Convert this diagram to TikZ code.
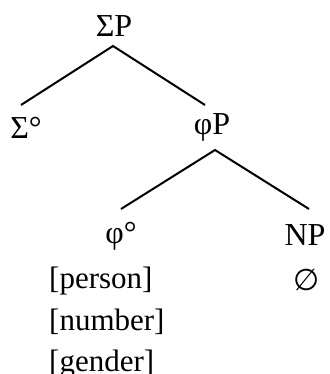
\documentclass[tikz,border=0pt]{standalone}
\usepackage{fontspec}
\setmainfont{Liberation Serif}
\newfontfamily\symfont{DejaVu Sans}
\begin{document}
\begin{tikzpicture}[x=1pt,y=1pt,
  lbl/.style={inner sep=0pt,anchor=base,font=\fontsize{32}{38}\selectfont},
  feat/.style={inner sep=0pt,anchor=base west,font=\fontsize{31}{37}\selectfont},
  branch/.style={line width=2pt}]
\useasboundingbox (0,0) rectangle (329,-374);
\node[lbl] (SP) at (114,-37) {ΣP};
\node[lbl] (Sig) at (26,-139) {Σ°};
\node[lbl] (phiP) at (212,-135) {φP};
\node[lbl] (phi) at (121,-243) {φ°};
\node[lbl] (NP) at (305,-245) {NP};
\node[lbl] (empty) at (307,-290) {\symfont\fontsize{30}{34}\selectfont ∅};
\node[feat] (person) at (49,-288) {[person]};
\node[feat] (number) at (49,-330) {[number]};
\node[feat] (gender) at (49,-371) {[gender]};
\coordinate (a0) at (113,-46);
\coordinate (a1) at (21,-105);
\coordinate (a2) at (205,-105);
\coordinate (b0) at (215,-150);
\coordinate (b1) at (121,-209);
\coordinate (b2) at (309,-209);
\draw[branch] (a1) -- (a0) -- (a2);
\draw[branch] (b1) -- (b0) -- (b2);
\end{tikzpicture}
\end{document}
